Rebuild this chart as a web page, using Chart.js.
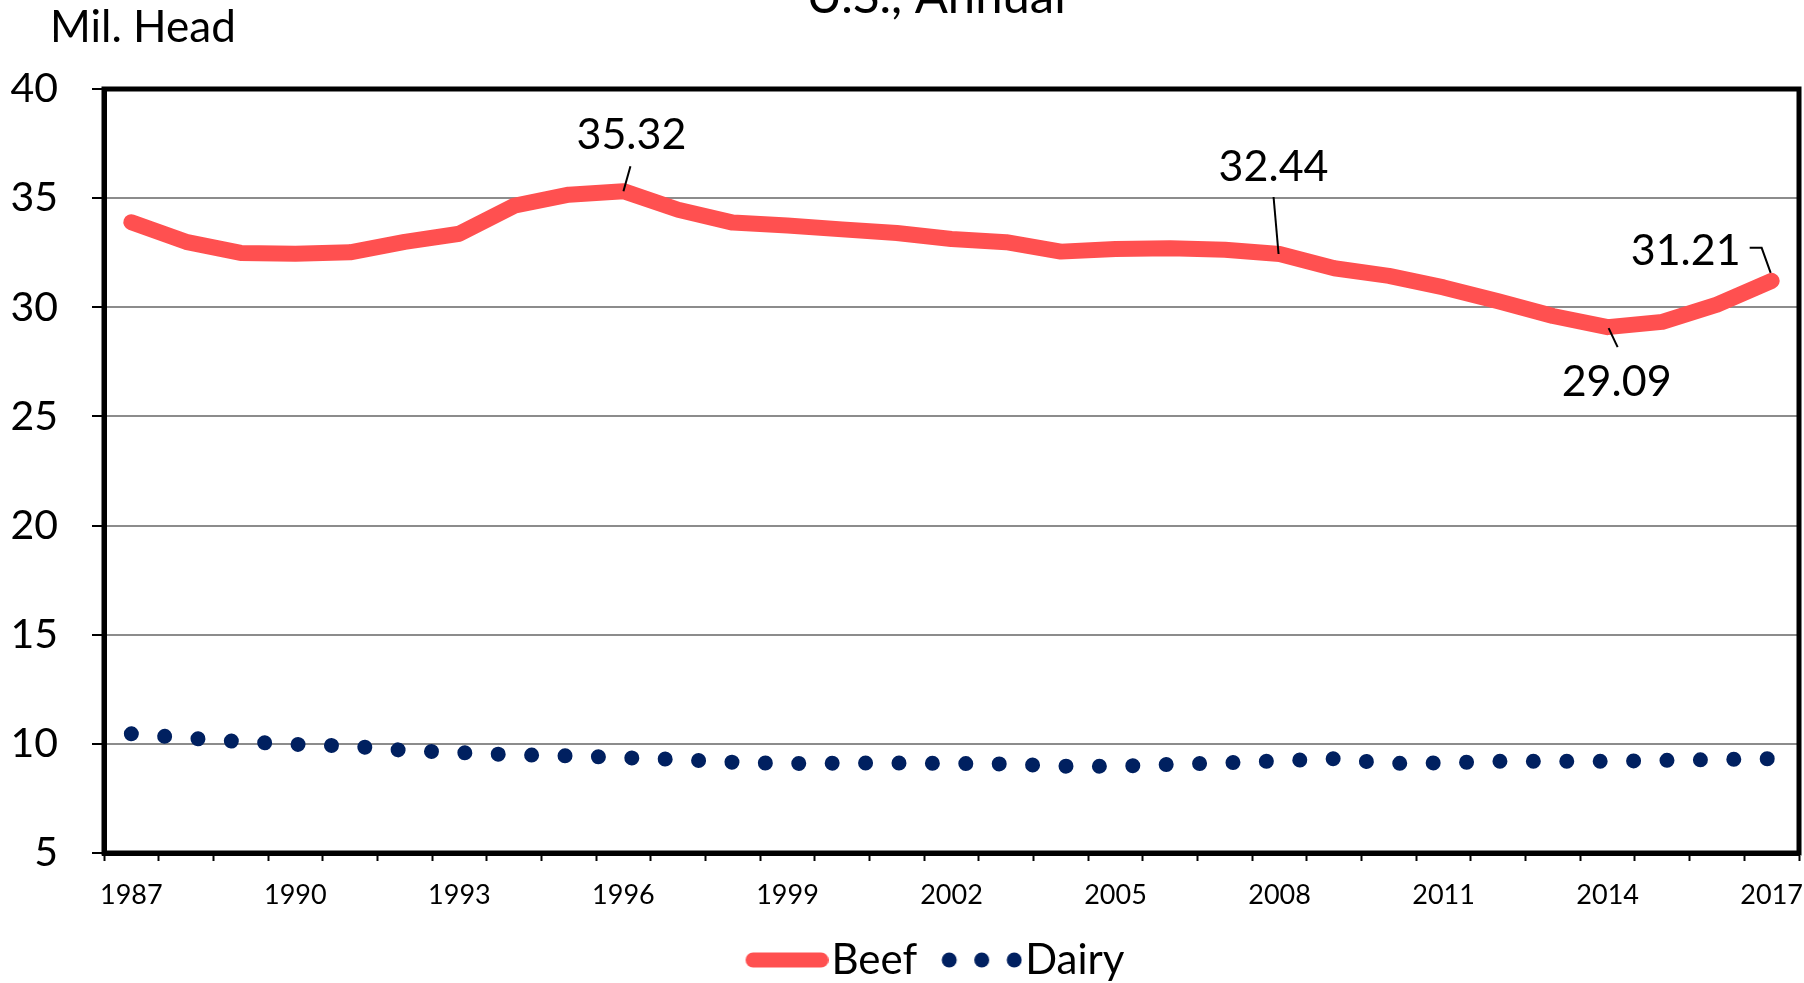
<!DOCTYPE html>
<html>
<head>
<meta charset="utf-8">
<script src="https://cdn.jsdelivr.net/npm/chart.js@4.4.0/dist/chart.umd.min.js"></script>
<style>
  html, body { margin: 0; padding: 0; background: #fff; overflow: hidden; }
  #wrap { position: relative; width: 1804px; height: 991px; }
</style>
</head>
<body>
<div id="wrap"><canvas id="cowChart"></canvas></div>
<script>
// Jan 1 cow inventory, million head
const years = ['1987', '1988', '1989', '1990', '1991', '1992', '1993', '1994', '1995', '1996',
    '1997', '1998', '1999', '2000', '2001', '2002', '2003', '2004', '2005', '2006',
    '2007', '2008', '2009', '2010', '2011', '2012', '2013', '2014', '2015', '2016', '2017'];
const beef = [33.90, 33.00, 32.49, 32.45, 32.52, 33.00, 33.37, 34.65, 35.16, 35.32,
    34.47, 33.88, 33.75, 33.57, 33.40, 33.13, 32.98, 32.55, 32.67, 32.70,
    32.64, 32.44, 31.79, 31.44, 30.91, 30.28, 29.60, 29.09, 29.33, 30.12, 31.21];
const dairy = [10.46, 10.27, 10.10, 9.98, 9.90, 9.70, 9.60, 9.50, 9.45, 9.37,
    9.28, 9.16, 9.10, 9.12, 9.12, 9.10, 9.08, 8.98, 8.97, 9.06,
    9.13, 9.22, 9.32, 9.10, 9.13, 9.20, 9.20, 9.20, 9.24, 9.28, 9.32];
const shownYears = ['1987', '1990', '1993', '1996', '1999', '2002', '2005', '2008', '2011', '2014', '2017'];
const calloutYears = ['1996', '2008', '2014', '2017'];

const FONT = 'Lato, "Open Sans", sans-serif';
const RED = '#ff5050';
const NAVY = '#002060';

// where each callout text sits relative to its point, and its leader line
const calloutStyle = {
    '1996': { dx: 8, dy: -56, path: [[0, 0], [7, -25]] },
    '2008': { dx: -6, dy: -87, path: [[-1, 0], [-6, -57]] },
    '2014': { dx: 9, dy: 55, path: [[1, 1], [10, 20]] },
    '2017': { dx: -86, dy: -30, path: [[-22, -33], [-10, -33], [-1, -8]] }
};

// legend samples (drawn right-aligned so the text follows right after)
function beefSample() {
    const c = document.createElement('canvas');
    c.width = 100; c.height = 18;
    const g = c.getContext('2d');
    g.strokeStyle = RED;
    g.lineWidth = 15;
    g.lineCap = 'round';
    g.beginPath();
    g.moveTo(24.5, 9);
    g.lineTo(92.5, 9);
    g.stroke();
    return c;
}
function dairySample() {
    const c = document.createElement('canvas');
    c.width = 100; c.height = 18;
    const g = c.getContext('2d');
    g.fillStyle = NAVY;
    [27, 59.5, 92].forEach(x => {
        g.beginPath();
        g.arc(x, 9, 7.5, 0, Math.PI * 2);
        g.fill();
    });
    return c;
}
const samples = [beefSample(), dairySample()];

const extras = {
    id: 'extras',
    afterLayout(chart) {
        // legend sits a bit left of the plot centre
        chart.legend.left -= 32;
    },
    afterDatasetsDraw(chart) {
        const { ctx, chartArea: a } = chart;
        ctx.save();
        ctx.strokeStyle = '#000';
        ctx.lineWidth = 5;
        ctx.strokeRect(a.left, a.top, a.right - a.left, a.bottom - a.top);

        const meta = chart.getDatasetMeta(0);
        ctx.font = '43px ' + FONT;
        ctx.fillStyle = '#000';
        ctx.textAlign = 'center';
        ctx.textBaseline = 'middle';
        ctx.lineWidth = 2;
        calloutYears.forEach(y => {
            const i = years.indexOf(y);
            const pt = meta.data[i];
            const s = calloutStyle[y];
            ctx.beginPath();
            s.path.forEach((p, k) => {
                if (k === 0) ctx.moveTo(pt.x + p[0], pt.y + p[1]);
                else ctx.lineTo(pt.x + p[0], pt.y + p[1]);
            });
            ctx.stroke();
            ctx.fillText(beef[i].toFixed(2), pt.x + s.dx, pt.y + s.dy);
        });
        ctx.restore();
    },
    afterDraw(chart) {
        const ctx = chart.ctx;
        ctx.save();
        ctx.fillStyle = '#000';
        ctx.textBaseline = 'alphabetic';
        ctx.font = '49px ' + FONT;
        ctx.textAlign = 'center';
        ctx.fillText('U.S., Annual', 936, 13);
        ctx.font = '44px ' + FONT;
        ctx.textAlign = 'left';
        ctx.fillText('Mil. Head', 50, 42);
        ctx.restore();
    }
};

const ctx = document.getElementById('cowChart').getContext('2d');
new Chart(ctx, {
    type: 'line',
    data: {
        labels: years,
        datasets: [{
            label: 'Beef',
            data: beef,
            borderColor: RED,
            borderWidth: 16,
            borderCapStyle: 'round',
            borderJoinStyle: 'round',
            pointRadius: 0,
            tension: 0
        }, {
            label: 'Dairy',
            data: dairy,
            borderColor: NAVY,
            borderWidth: 15,
            borderCapStyle: 'round',
            borderDash: [0.01, 33.4],
            pointRadius: 0,
            tension: 0
        }]
    },
    options: {
        responsive: true,
        maintainAspectRatio: false,
        animation: false,
        layout: {
            padding: { top: 89, right: 5, left: 0, bottom: 0 }
        },
        scales: {
            x: {
                offset: true,
                grid: {
                    offset: true,
                    drawOnChartArea: false,
                    tickLength: 8,
                    tickColor: '#000',
                    tickWidth: 2
                },
                border: { color: '#000', width: 5 },
                ticks: {
                    autoSkip: false,
                    maxRotation: 0,
                    padding: 18,
                    color: '#000',
                    font: { family: FONT, size: 27 },
                    callback: function(value) {
                        const y = this.getLabelForValue(value);
                        return shownYears.includes(y) ? y : '';
                    }
                },
                afterFit: s => {
                    s.height = 63;
                    s.paddingLeft = 0;
                    s.paddingRight = 0;
                }
            },
            y: {
                min: 5,
                max: 40,
                grid: {
                    color: '#8c8c8c',
                    lineWidth: 2,
                    tickLength: 12,
                    tickColor: '#000',
                    tickWidth: 2
                },
                border: { color: '#000', width: 5 },
                ticks: {
                    stepSize: 5,
                    padding: 34,
                    color: '#000',
                    font: { family: FONT, size: 41 }
                },
                afterFit: s => { s.width = 104; }
            }
        },
        plugins: {
            title: { display: false },
            tooltip: { enabled: false },
            legend: {
                display: true,
                position: 'bottom',
                fullSize: false,
                labels: {
                    usePointStyle: true,
                    pointStyleWidth: 64,
                    padding: 23,
                    color: '#000',
                    font: { family: FONT, size: 42 },
                    generateLabels: chart => chart.data.datasets.map((ds, i) => ({
                        text: ds.label,
                        pointStyle: samples[i],
                        datasetIndex: i,
                        fontColor: '#000',
                        lineWidth: 0,
                        strokeStyle: 'rgba(0,0,0,0)',
                        fillStyle: 'rgba(0,0,0,0)'
                    }))
                }
            }
        }
    },
    plugins: [extras]
});
</script>
</body>
</html>
